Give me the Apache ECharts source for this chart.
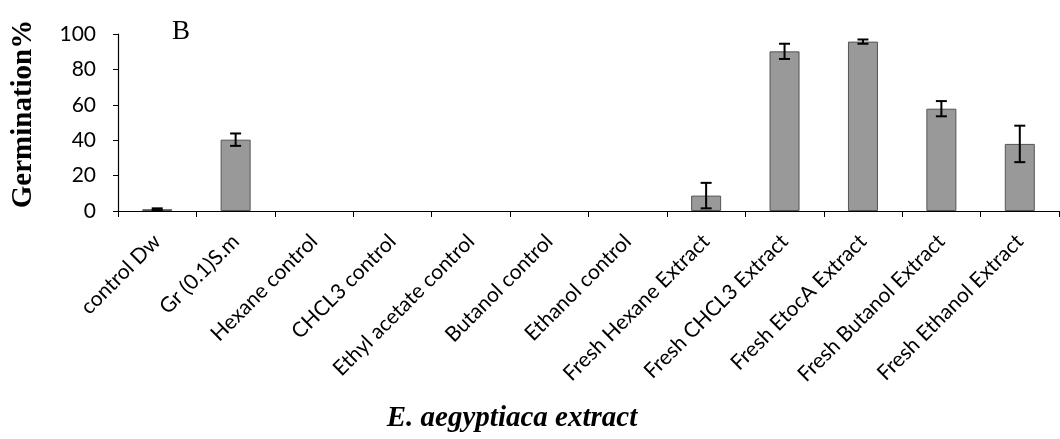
<!DOCTYPE html>
<html>
<head>
<meta charset="utf-8">
<script src="https://cdn.jsdelivr.net/npm/echarts@6/dist/echarts.min.js"></script>
<style>
  html, body { margin: 0; padding: 0; background: #fff; }
  #chart { width: 1060px; height: 439px; }
</style>
</head>
<body>
<div id="chart"></div>
<script>
// Germination % of seeds treated with E. aegyptiaca extracts (mean ± SE)
const categories = [
  'control Dw', 'Gr (0.1)S.m', 'Hexane control', 'CHCL3 control',
  'Ethyl acetate control', 'Butanol control', 'Ethanol control',
  'Fresh Hexane Extract', 'Fresh CHCL3 Extract', 'Fresh EtocA Extract',
  'Fresh Butanol Extract', 'Fresh Ethanol Extract'
];
const germination = [1, 40.3, 0, 0, 0, 0, 0, 8.7, 90.2, 95.7, 57.8, 37.9];
const errors      = [0.5, 3.5, 0, 0, 0, 0, 0, 7.2, 4.3, 1.2, 4.3, 10.3];
const yTicks = [0, 20, 40, 60, 80, 100];

const chart = echarts.init(document.getElementById('chart'));

const errorData = categories.map((c, i) => [i, germination[i], errors[i]]);

chart.setOption({
  animation: false,
  grid: { left: 118, right: 1, top: 34, bottom: 228, containLabel: false },
  xAxis: {
    type: 'category',
    data: categories,
    axisLine: { lineStyle: { color: '#000', width: 1.2 } },
    axisTick: { show: true, alignWithLabel: false, length: 6, lineStyle: { color: '#000' } },
    axisLabel: {
      rotate: 45, margin: 27, interval: 0,
      fontFamily: 'Lato', fontSize: 21, color: '#000'
    }
  },
  yAxis: {
    type: 'value',
    min: yTicks[0], max: yTicks[yTicks.length - 1], interval: 20,
    splitLine: { show: false },
    axisLine: { show: true, lineStyle: { color: '#000', width: 1.2 } },
    axisTick: { show: true, length: 5, lineStyle: { color: '#000' } },
    axisLabel: { margin: 22, fontFamily: 'Lato', fontSize: 21, color: '#000' }
  },
  series: [
    {
      type: 'bar',
      data: germination.map(v => (v > 0 ? v : null)),
      barWidth: 30,
      itemStyle: { color: '#999999', borderColor: '#555', borderWidth: 1 }
    },
    {
      type: 'custom',
      data: errorData,
      z: 5,
      renderItem: function (params, api) {
        const i = api.value(0), v = api.value(1), e = api.value(2);
        if (!e) return null;
        const top = api.coord([i, v + e]);
        const bot = api.coord([i, v - e]);
        const half = 5.5;
        const style = { stroke: '#000', lineWidth: 2 };
        return {
          type: 'group',
          children: [
            { type: 'line', shape: { x1: top[0], y1: top[1], x2: bot[0], y2: bot[1] }, style: style },
            { type: 'line', shape: { x1: top[0] - half, y1: top[1], x2: top[0] + half, y2: top[1] }, style: style },
            { type: 'line', shape: { x1: bot[0] - half, y1: bot[1], x2: bot[0] + half, y2: bot[1] }, style: style }
          ]
        };
      }
    }
  ],
  graphic: [
    {
      type: 'text', x: 24, y: 114, rotation: Math.PI / 2,
      style: {
        text: 'Germination%', fontFamily: 'Liberation Serif', fontWeight: 'bold',
        fontSize: 29, fill: '#000', textAlign: 'center', textVerticalAlign: 'middle'
      }
    },
    {
      type: 'text', x: 172, y: 18,
      style: { text: 'B', fontFamily: 'Liberation Serif', fontSize: 27, fill: '#000' }
    },
    {
      type: 'text', x: 512, y: 419,
      style: {
        text: 'E. aegyptiaca extract', fontFamily: 'Liberation Serif', fontWeight: 'bold',
        fontStyle: 'italic', fontSize: 29, fill: '#000', textAlign: 'center', textVerticalAlign: 'middle'
      }
    }
  ]
});
</script>
</body>
</html>
